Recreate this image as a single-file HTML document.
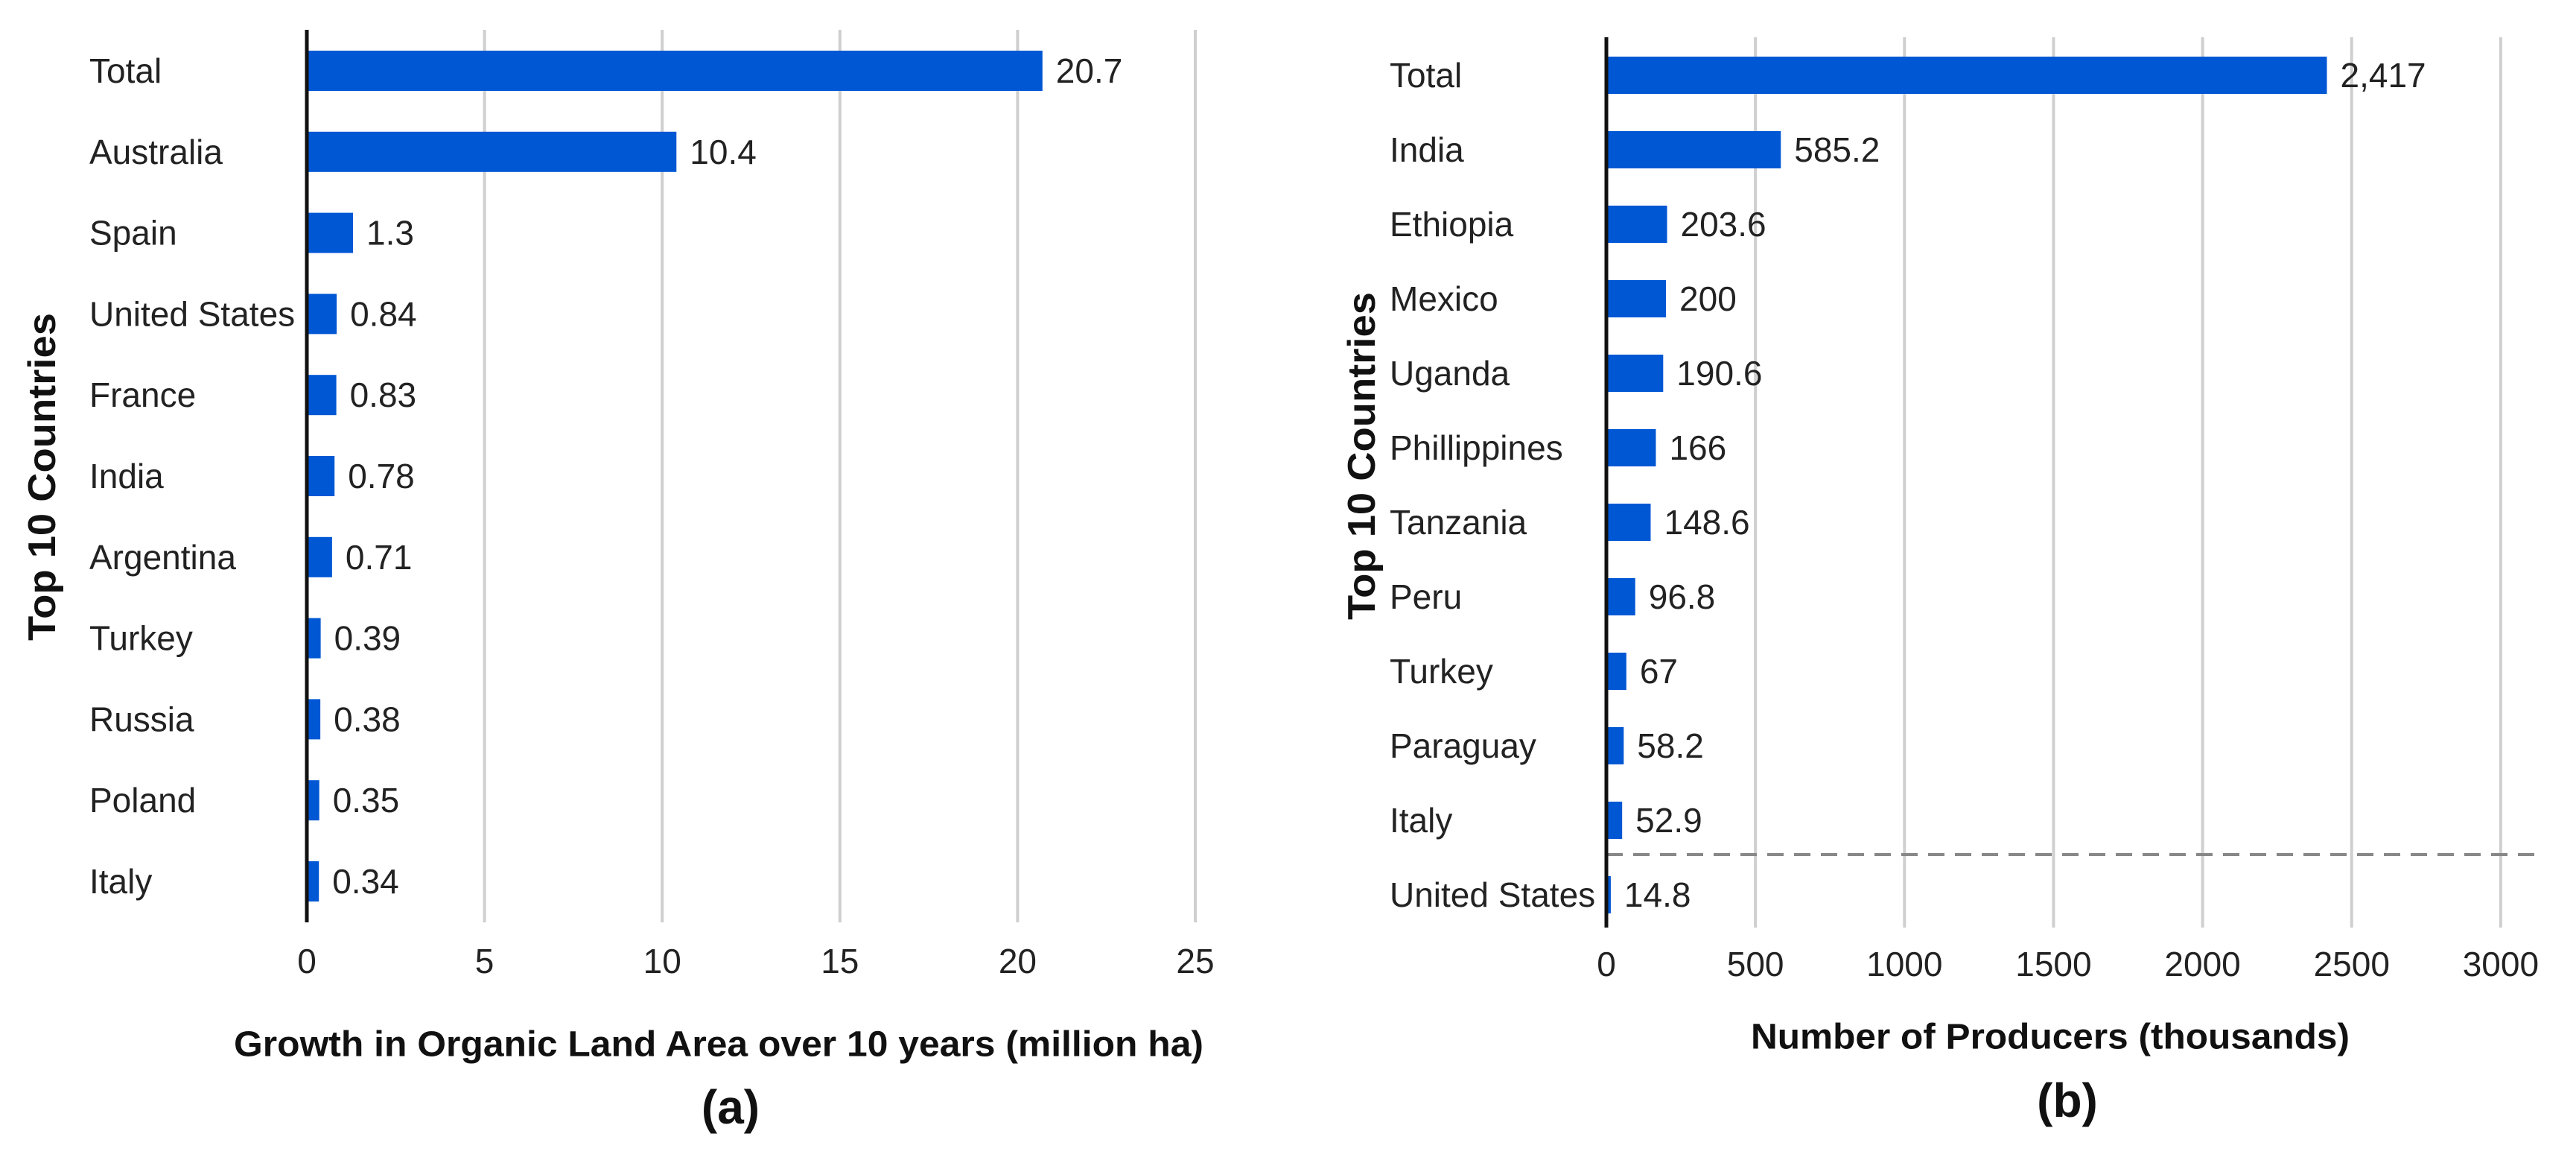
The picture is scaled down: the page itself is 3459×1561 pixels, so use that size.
<!DOCTYPE html>
<html><head><meta charset="utf-8"><style>
html,body{margin:0;padding:0;background:#fff;}
svg{display:block;font-family:"Liberation Sans",Arial,sans-serif;}
</style></head><body>
<svg id="chart" width="3459" height="1561" viewBox="0 0 3459 1561" xmlns="http://www.w3.org/2000/svg">
<g id="pa"></g>
<g id="pb"></g>
</svg>
<script>
const catsA = ["Total","Australia","Spain","United States","France","India","Argentina","Turkey","Russia","Poland","Italy"];
const valsA = [20.7,10.4,1.3,0.84,0.83,0.78,0.71,0.39,0.38,0.35,0.34];
const labelsA = ["20.7","10.4","1.3","0.84","0.83","0.78","0.71","0.39","0.38","0.35","0.34"];
const ticksA = [0,5,10,15,20,25];

const catsB = ["Total","India","Ethiopia","Mexico","Uganda","Phillippines","Tanzania","Peru","Turkey","Paraguay","Italy","United States"];
const valsB = [2417,585.2,203.6,200,190.6,166,148.6,96.8,67,58.2,52.9,14.8];
const labelsB = ["2,417","585.2","203.6","200","190.6","166","148.6","96.8","67","58.2","52.9","14.8"];
const ticksB = [0,500,1000,1500,2000,2500,3000];

const NS="http://www.w3.org/2000/svg";
function mk(parent,tag,attrs,text){
  const e=document.createElementNS(NS,tag);
  for(const k in attrs) e.setAttribute(k,attrs[k]);
  if(text!==undefined) e.textContent=text;
  parent.appendChild(e);
  return e;
}
const BLUE="#0057d4";

function panel(g,cfg){
  const x=v=>cfg.x0+(v-cfg.tmin)*cfg.scale;
  const y=i=>cfg.y0+i*cfg.step;
  cfg.ticks.forEach(t=>{
    if(t!==0){
      const gl=mk(g,"line",{x1:x(t),x2:x(t),y1:cfg.top,y2:cfg.bottom,stroke:"#cfcfcf","stroke-width":4});
      
      
    }
    const tl=mk(g,"text",{x:x(t),y:cfg.tickY,"font-size":46,"text-anchor":"middle","dominant-baseline":"central",fill:"#222"},String(t));
    
    
  });
  if(cfg.dashY){
    const dl=mk(g,"line",{x1:cfg.x0,x2:cfg.dashEnd,y1:cfg.dashY,y2:cfg.dashY,stroke:"#888","stroke-width":4,"stroke-dasharray":"22 14"});
    
    
  }
  cfg.cats.forEach((c,i)=>{
    const cy=y(i);
    const b=mk(g,"rect",{x:cfg.x0,y:cy-cfg.bh/2,width:Math.max(0,x(cfg.vals[i])-cfg.x0),height:cfg.bh,fill:BLUE});
    
    
    const vl=mk(g,"text",{x:x(cfg.vals[i])+18,y:cy,"font-size":46,"dominant-baseline":"central",fill:"#222"},cfg.labels[i]);
    
    
    const cl=mk(g,"text",{x:cfg.labelX,y:cy,"font-size":46,"dominant-baseline":"central",fill:"#222"},c);
    
    
  });
  const ax=mk(g,"line",{x1:cfg.x0,x2:cfg.x0,y1:cfg.top,y2:cfg.bottom,stroke:"#111","stroke-width":5});
  
  
  const yt=mk(g,"text",{x:0,y:0,"font-size":52,"font-weight":"bold","text-anchor":"middle","dominant-baseline":"central",fill:"#111",transform:`translate(${cfg.ytX},${cfg.ytY}) rotate(-90)`,textLength:440,lengthAdjust:"spacingAndGlyphs"},"Top 10 Countries");
  
  
  const xt=mk(g,"text",{x:cfg.xtX,y:cfg.xtY,"font-size":48,"font-weight":"bold","text-anchor":"middle","dominant-baseline":"central",fill:"#111",textLength:cfg.xtW,lengthAdjust:"spacingAndGlyphs"},cfg.xtitle);
  
  
  const pl=mk(g,"text",{x:cfg.plX,y:cfg.plY,"font-size":64,"font-weight":"bold","text-anchor":"middle","dominant-baseline":"central",fill:"#111"},cfg.panel);
  
  
}

panel(document.getElementById("pa"),{
  cats:catsA,vals:valsA,labels:labelsA,ticks:ticksA,tmin:0,
  x0:412,scale:47.72,y0:95,step:108.8,bh:54,top:40,bottom:1238,tickY:1290,
  labelX:120,ytX:57,ytY:640,xtX:965,xtY:1402,xtW:1302,
  xtitle:"Growth in Organic Land Area over 10 years (million ha)",
  plX:981,plY:1486,panel:"(a)"
});
panel(document.getElementById("pb"),{
  cats:catsB,vals:valsB,labels:labelsB,ticks:ticksB,tmin:0,
  x0:2157,scale:0.4003,y0:101,step:100,bh:50,top:50,bottom:1245,tickY:1294,
  labelX:1866,ytX:1829,ytY:612,xtX:2753,xtY:1392,xtW:804,
  xtitle:"Number of Producers (thousands)",
  plX:2776,plY:1477,panel:"(b)",dashY:1147,dashEnd:3404
});
</script>
</body></html>
